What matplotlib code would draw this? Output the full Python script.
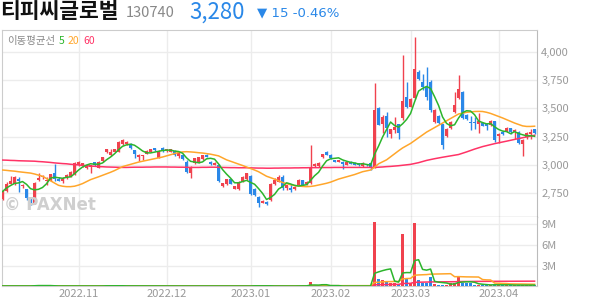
import numpy as np
import pandas as pd
import matplotlib
matplotlib.use('Agg')
import matplotlib.pyplot as plt

plt.rcParams['font.family'] = ['Noto Sans CJK KR', 'DejaVu Sans']

# 일봉 데이터 (2022.10.04 ~ 2023.04.13), 원
opens = [2700, 2770, 2834, 2830, 2880, 2810, 2785, 2690, 2665, 2870,
         2893, 2860, 2860, 2925, 2880, 2862, 2895, 2896, 2920, 2998,
         2990, 2970, 2978, 3025, 2975, 3034, 3111, 3087, 3117, 3117,
         3185, 3188, 3182, 3132, 3073, 3078, 3099, 3117, 3146, 3064,
         3146, 3123, 3117, 3123, 3082, 3090, 3029, 2926, 3014, 3020,
         3049, 3087, 3029, 2999, 3000, 2817, 2831, 2873, 2790, 2784,
         2852, 2873, 2902, 2784, 2720, 2666, 2675, 2690, 2830, 2852,
         2896, 2793, 2799, 2787, 2822, 2867, 2831, 2843, 2993, 2993,
         3067, 3111, 3087, 3043, 3029, 3029, 2999, 3029, 3020, 3015,
         2990, 3010, 3020, 2985, 3500, 3361, 3432, 3273, 3308, 3361,
         3412, 3603, 3515, 3588, 3824, 3735, 3691, 3735, 3382, 3432,
         3358, 3255, 3323, 3470, 3588, 3647, 3441, 3382, 3382, 3365,
         3367, 3362, 3350, 3385, 3255, 3294, 3302, 3323, 3290, 3294,
         3185, 3250, 3270, 3315]
highs = [2775, 2852, 2905, 2900, 2890, 2830, 2790, 2705, 2845, 2925,
         2910, 2895, 2920, 3010, 2890, 2890, 2920, 2945, 3025, 3035,
         3020, 3000, 3000, 3030, 3032, 3070, 3145, 3145, 3145, 3210,
         3225, 3210, 3190, 3135, 3095, 3090, 3130, 3145, 3150, 3130,
         3155, 3145, 3145, 3130, 3110, 3095, 3040, 2990, 3060, 3070,
         3090, 3095, 3035, 3025, 3005, 2840, 2880, 2880, 2818, 2855,
         2900, 2930, 2915, 2795, 2725, 2690, 2680, 2840, 2885, 2911,
         2911, 2825, 2830, 2810, 2880, 2870, 2855, 3176, 3014, 3025,
         3100, 3120, 3095, 3045, 3045, 3032, 3035, 3035, 3025, 3020,
         3025, 3012, 3025, 3727, 3510, 3441, 3470, 3320, 3420, 3365,
         3971, 3735, 3590, 4127, 3840, 3800, 3862, 3750, 3490, 3440,
         3360, 3330, 3390, 3647, 3794, 3655, 3450, 3430, 3420, 3455,
         3372, 3370, 3395, 3390, 3285, 3300, 3335, 3330, 3315, 3300,
         3226, 3290, 3320, 3320]
lows = [2690, 2765, 2830, 2825, 2760, 2800, 2690, 2646, 2655, 2860,
        2880, 2823, 2855, 2860, 2855, 2840, 2880, 2890, 2915, 2990,
        2985, 2960, 2925, 2990, 2970, 3030, 3105, 3075, 3110, 3110,
        3180, 3180, 3140, 3058, 3034, 3045, 3095, 3110, 3120, 3060,
        3115, 3118, 3110, 3075, 3060, 3040, 2926, 2885, 3010, 3015,
        3045, 3070, 3000, 2995, 2850, 2808, 2825, 2830, 2785, 2778,
        2848, 2868, 2734, 2725, 2631, 2660, 2650, 2685, 2825, 2845,
        2778, 2780, 2765, 2780, 2815, 2820, 2825, 2835, 2985, 2985,
        3060, 3085, 3050, 3025, 3025, 2960, 2995, 3005, 2995, 2990,
        2985, 2990, 2955, 2975, 3350, 3279, 3250, 3240, 3279, 3230,
        3400, 3505, 3510, 3580, 3750, 3660, 3573, 3470, 3370, 3360,
        3138, 3245, 3315, 3460, 3580, 3405, 3395, 3308, 3320, 3285,
        3340, 3310, 3345, 3200, 3195, 3265, 3295, 3275, 3230, 3185,
        3079, 3230, 3225, 3270]
closes = [2765, 2828, 2860, 2893, 2860, 2825, 2705, 2668, 2840, 2885,
          2905, 2870, 2918, 2880, 2862, 2880, 2912, 2940, 3014, 3028,
          3014, 2998, 2998, 2995, 3028, 3067, 3140, 3117, 3140, 3205,
          3220, 3205, 3146, 3093, 3087, 3087, 3123, 3140, 3128, 3123,
          3123, 3140, 3140, 3087, 3102, 3050, 2935, 2985, 3058, 3067,
          3087, 3073, 3008, 3020, 2858, 2837, 2873, 2831, 2814, 2852,
          2896, 2926, 2740, 2734, 2660, 2684, 2655, 2830, 2870, 2896,
          2793, 2822, 2778, 2808, 2867, 2822, 2852, 2970, 3010, 3020,
          3096, 3087, 3058, 3029, 3043, 3005, 3029, 3010, 3000, 2995,
          3020, 2995, 2980, 3485, 3353, 3420, 3323, 3314, 3332, 3279,
          3568, 3515, 3580, 3844, 3756, 3685, 3603, 3485, 3485, 3367,
          3176, 3320, 3382, 3529, 3668, 3412, 3403, 3367, 3367, 3390,
          3344, 3345, 3385, 3220, 3273, 3273, 3323, 3290, 3310, 3190,
          3220, 3279, 3295, 3280]
# 거래량, 백만 주
volumes = [0.05, 0.06, 0.05, 0.04, 0.05, 0.04, 0.05, 0.06, 0.2, 0.18,
           0.05, 0.04, 0.05, 0.06, 0.04, 0.04, 0.05, 0.04, 0.06, 0.05,
           0.04, 0.04, 0.04, 0.05, 0.05, 0.06, 0.15, 0.06, 0.05, 0.06,
           0.06, 0.05, 0.05, 0.05, 0.04, 0.04, 0.04, 0.05, 0.04, 0.04,
           0.04, 0.04, 0.04, 0.04, 0.04, 0.04, 0.05, 0.05, 0.04, 0.04,
           0.04, 0.04, 0.04, 0.04, 0.06, 0.04, 0.04, 0.04, 0.04, 0.04,
           0.04, 0.04, 0.06, 0.15, 0.05, 0.04, 0.04, 0.06, 0.05, 0.04,
           0.05, 0.04, 0.04, 0.04, 0.12, 0.05, 0.04, 0.67, 0.06, 0.05,
           0.33, 0.05, 0.04, 0.04, 0.04, 0.04, 0.04, 0.04, 0.04, 0.04,
           0.04, 0.04, 0.05, 9.3, 1.06, 0.95, 0.8, 0.55, 0.45, 0.3,
           7.6, 1.1, 0.5, 9.25, 0.9, 0.55, 0.55, 1.3, 0.35, 0.25,
           0.25, 0.25, 0.45, 0.55, 1.3, 0.55, 0.45, 0.45, 0.2, 0.2,
           0.2, 0.2, 0.2, 0.3, 0.2, 0.15, 0.2, 0.2, 0.15, 0.2,
           0.2, 0.15, 0.15, 0.15]
# 20일, 60일 이동평균
ma20 = [2955, 2952, 2948, 2945, 2940, 2936, 2932, 2928, 2920, 2910,
        2900, 2880, 2860, 2840, 2820, 2812, 2808, 2808, 2812, 2822,
        2835, 2852, 2870, 2882, 2895, 2908, 2920, 2935, 2950, 2968,
        2985, 2995, 3005, 3015, 3025, 3032, 3040, 3048, 3055, 3062,
        3070, 3080, 3090, 3100, 3110, 3115, 3117, 3115, 3112, 3108,
        3105, 3100, 3095, 3088, 3080, 3062, 3045, 3032, 3020, 3008,
        2995, 2982, 2970, 2955, 2940, 2920, 2900, 2888, 2875, 2860,
        2845, 2835, 2825, 2818, 2814, 2810, 2808, 2810, 2815, 2822,
        2830, 2838, 2848, 2862, 2875, 2885, 2895, 2905, 2915, 2928,
        2940, 2948, 2955, 2980, 3010, 3028, 3045, 3072, 3100, 3125,
        3150, 3170, 3190, 3215, 3240, 3265, 3290, 3310, 3330, 3350,
        3370, 3390, 3410, 3430, 3450, 3458, 3465, 3468, 3472, 3473,
        3472, 3465, 3455, 3442, 3430, 3415, 3400, 3385, 3370, 3357,
        3345, 3340, 3340, 3342]
ma60 = [3043, 3042, 3040, 3039, 3037, 3036, 3035, 3034, 3033, 3030,
        3028, 3025, 3022, 3018, 3015, 3012, 3010, 3006, 3003, 3000,
        2996, 2993, 2990, 2988, 2985, 2984, 2982, 2981, 2980, 2979,
        2978, 2978, 2979, 2980, 2980, 2980, 2981, 2981, 2982, 2982,
        2982, 2982, 2981, 2981, 2980, 2980, 2979, 2978, 2978, 2978,
        2979, 2979, 2980, 2980, 2979, 2978, 2977, 2976, 2976, 2975,
        2975, 2975, 2974, 2973, 2972, 2972, 2971, 2971, 2972, 2972,
        2973, 2973, 2973, 2974, 2974, 2975, 2975, 2976, 2976, 2976,
        2977, 2977, 2977, 2978, 2978, 2978, 2978, 2978, 2978, 2978,
        2978, 2978, 2978, 2978, 2980, 2982, 2985, 2987, 2990, 2993,
        2997, 3001, 3005, 3012, 3020, 3030, 3040, 3048, 3055, 3062,
        3068, 3074, 3080, 3086, 3092, 3103, 3115, 3128, 3140, 3151,
        3162, 3171, 3180, 3188, 3195, 3203, 3210, 3218, 3225, 3233,
        3240, 3248, 3255, 3262]

month_labels = ['2022.11', '2022.12', '2023.01', '2023.02', '2023.03', '2023.04']
month_idx = [19, 41, 62, 82, 102, 124]
price_ticks = [2750, 3000, 3250, 3500, 3750, 4000]
vol_ticks = [3, 6, 9]

UP = '#f0424e'
DOWN = '#2a88e8'
C5 = '#2cb52c'
C20 = '#ffa62b'
C60 = '#ff3366'
GRID = '#ececec'
LBL = '#999999'

o = np.array(opens, float)
h = np.array(highs, float)
l = np.array(lows, float)
c = np.array(closes, float)
v = np.array(volumes, float)
x = np.arange(len(c))
cols = np.where(c >= o, UP, DOWN)
ma5 = pd.Series(c).rolling(5, min_periods=1).mean()
vs = pd.Series(v)

W, H = 594, 304


def box(left, top, right, bottom):
    return [left / W, 1 - bottom / H, (right - left) / W, (bottom - top) / H]


def px(xp, yp):
    return xp / W, 1 - yp / H


fig = plt.figure(figsize=(W / 100, H / 100), dpi=100)
ax = fig.add_axes(box(1.5, 30, 537, 217))
axv = fig.add_axes(box(1.5, 217, 537, 286.3), sharex=ax)

# 가격 차트
ax.vlines(x, l, h, colors=cols, lw=1, zorder=3)
ax.bar(x, np.maximum(np.abs(c - o), 9), bottom=np.minimum(o, c), width=0.75,
       color=cols, linewidth=0, zorder=3)
ax.plot(x, ma60, color=C60, lw=1.1, zorder=4)
ax.plot(x, ma20, color=C20, lw=1.1, zorder=4)
ax.plot(x, ma5, color=C5, lw=1.1, zorder=4)

ax.set_xlim(-0.25, 133.6)
ax.set_ylim(2540, 4192)
ax.set_yticks(price_ticks)
ax.set_yticklabels([f'{t:,}' for t in price_ticks])
ax.set_xticks(month_idx)
ax.tick_params(axis='x', length=0, labelbottom=False)
ax.yaxis.tick_right()
ax.tick_params(axis='y', length=0, pad=3, labelsize=8, labelcolor=LBL)
ax.grid(color=GRID, lw=1)
ax.set_axisbelow(True)
for s in ['top', 'left']:
    ax.spines[s].set_color('#cccccc')
ax.spines['right'].set_color('#bbbbbb')
ax.spines['bottom'].set_color('#333333')

fig.text(*px(4, 205), '© PAXNet', fontsize=12, fontweight='bold',
         color='#cfcfcf', va='center', family=['DejaVu Sans'])

# 거래량 차트
axv.bar(x, v, width=0.75, color=cols, linewidth=0, zorder=3)
axv.plot(x, vs.rolling(60, min_periods=1).mean(), color=C60, lw=1.1, zorder=4)
axv.plot(x, vs.rolling(20, min_periods=1).mean(), color=C20, lw=1.1, zorder=4)
axv.plot(x, vs.rolling(5, min_periods=1).mean(), color=C5, lw=1.1, zorder=4)
axv.set_ylim(0, 10.09)
axv.set_yticks(vol_ticks)
axv.set_yticklabels([f'{t}M' for t in vol_ticks])
axv.yaxis.tick_right()
axv.tick_params(axis='y', length=0, pad=3, labelsize=8, labelcolor=LBL)
axv.set_xticks(month_idx)
axv.set_xticklabels(month_labels)
axv.tick_params(axis='x', length=0, pad=2, labelsize=8, labelcolor=LBL)
axv.grid(color=GRID, lw=1)
axv.set_axisbelow(True)
axv.spines['top'].set_visible(False)
axv.spines['left'].set_color('#cccccc')
axv.spines['right'].set_color('#bbbbbb')
axv.spines['bottom'].set_color('#cccccc')

# 머리글
fig.text(*px(0, 12), '티피씨글로벌', fontsize=15.5, fontweight='bold',
         color='#111111', va='center')
fig.text(*px(126, 13), '130740', fontsize=10.5, color='#888888', va='center')
fig.text(*px(189, 12), '3,280', fontsize=16, color='#2a88e8', va='center')
fig.text(*px(257, 13), '▼ 15 -0.46%', fontsize=9.5, color='#2a88e8',
         va='center', family=['DejaVu Sans'])

fig.text(*px(7, 41), '이동평균선', fontsize=7.5, color='#888888', va='center')
fig.text(*px(59, 41), '5', fontsize=7.5, color=C5, va='center')
fig.text(*px(68, 41), '20', fontsize=7.5, color=C20, va='center')
fig.text(*px(83, 41), '60', fontsize=7.5, color=C60, va='center')

fig.savefig('out.png', dpi=100)
